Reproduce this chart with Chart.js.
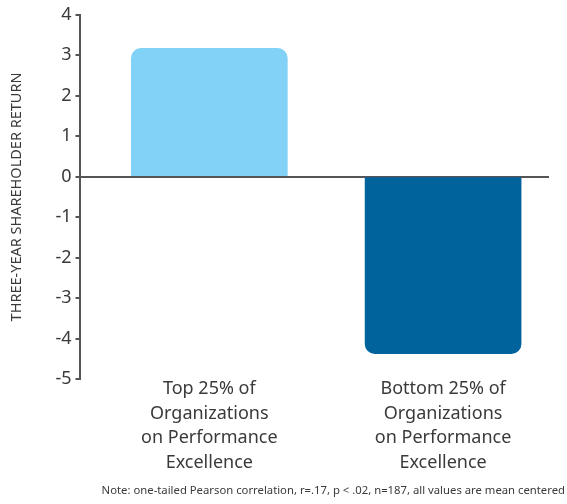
<!DOCTYPE html>
<html>
<head>
<meta charset="utf-8">
<script src="https://cdn.jsdelivr.net/npm/chart.js@4"></script>
<style>
html,body{margin:0;padding:0;background:#fff;}
#wrap{width:567px;height:504px;position:relative;}
</style>
</head>
<body>
<div id="wrap"><canvas id="c" width="567" height="504"></canvas></div>
<script>
const categories = [
  ["Top 25% of", "Organizations", "on Performance", "Excellence"],
  ["Bottom 25% of", "Organizations", "on Performance", "Excellence"]
];
const values = [3.17, -4.37];
const barColors = ["#81d2f6", "#01639c"];
const yTicks = [4, 3, 2, 1, 0, -1, -2, -3, -4, -5];
const yTitle = "THREE-YEAR SHAREHOLDER RETURN";
const note = "Note: one-tailed Pearson correlation, r=.17, p < .02, n=187, all values are mean centered";

const FONT = "'Noto Sans', 'Open Sans', sans-serif";
const TXT = "#3a3a3a";

const notePlugin = {
  id: 'note',
  afterDraw(chart) {
    const ctx = chart.ctx;
    ctx.save();
    ctx.font = "11.3px " + FONT;
    ctx.fillStyle = TXT;
    ctx.textAlign = "right";
    ctx.textBaseline = "middle";
    ctx.fillText(note, 565, 491);
    ctx.restore();
  }
};

new Chart(document.getElementById('c'), {
  type: 'bar',
  data: {
    datasets: [{
      data: values.map((v, i) => ({x: i, y: v})),
      backgroundColor: barColors,
      borderRadius: 10,
      borderSkipped: 'start',
      barThickness: 156
    }]
  },
  plugins: [notePlugin],
  options: {
    responsive: false,
    animation: false,
    layout: {padding: {left: 8, right: 18, top: 13, bottom: 25}},
    plugins: {legend: {display: false}, tooltip: {enabled: false}},
    scales: {
      x: {
        type: 'linear',
        offset: false,
        min: -0.551,
        max: 1.453,
        afterBuildTicks(scale) { scale.ticks = categories.map((c, i) => ({value: i})); },
        afterFit(scale) { scale.height += 14; },
        ticks: {
          callback: (v) => categories[v],
          font: {family: FONT, size: 18, lineHeight: 1.36},
          color: TXT,
          padding: -10,
          maxRotation: 0,
          autoSkip: false
        },
        grid: {display: false},
        border: {display: false}
      },
      y: {
        min: -5,
        max: 4,
        afterBuildTicks(scale) { scale.ticks = yTicks.map(v => ({value: v})); },
        ticks: {
          font: {family: FONT, size: 18},
          color: TXT,
          padding: 4
        },
        grid: {
          color: (c) => c.tick && c.tick.value === 0 ? '#555' : 'rgba(0,0,0,0)',
          lineWidth: 2,
          tickColor: '#555',
          tickLength: 5,
          drawOnChartArea: true
        },
        border: {display: true, color: '#555', width: 2},
        title: {
          display: true,
          text: yTitle,
          font: {family: FONT, size: 14.5},
          color: TXT,
          padding: {top: 0, bottom: 26}
        }
      }
    }
  }
});
</script>
</body>
</html>
